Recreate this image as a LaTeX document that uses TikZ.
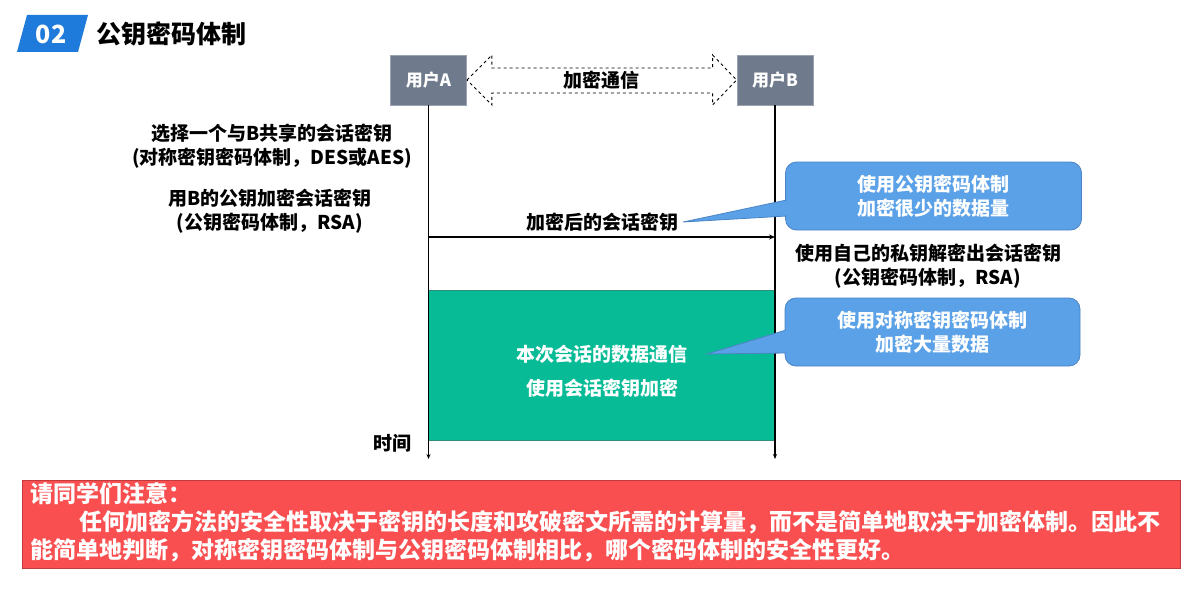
\documentclass[tikz,border=0pt]{standalone}
\usepackage{fontspec}
\setmainfont{Noto Sans CJK SC}
\usetikzlibrary{arrows.meta,calc}
\definecolor{titleblue}{HTML}{1E7BDB}
\definecolor{usergray}{HTML}{6F7B8C}
\definecolor{usergrayb}{HTML}{9AA3AE}
\definecolor{teal}{HTML}{07BB97}
\definecolor{tealb}{HTML}{2E8F7A}
\definecolor{cfill}{HTML}{5BA1E8}
\definecolor{cborder}{HTML}{4A84C4}
\definecolor{redfill}{HTML}{F94F50}
\definecolor{redborder}{HTML}{C23B3C}
\begin{document}
\begin{tikzpicture}[x=1pt,y=-1pt,
  font=\bfseries\fontsize{19}{24}\selectfont,
  userbox/.style={fill=usergray,draw=usergrayb,line width=0.8pt,text=white,minimum width=76pt,minimum height=50pt,inner sep=0pt,font=\bfseries\fontsize{17}{20}\selectfont},
  life/.style={line width=1.2pt,-{Stealth[length=5pt,width=4pt]}},
  msg/.style={line width=1.2pt,-{Stealth[length=6pt,width=5pt]}},
  calloutbox/.style={fill=cfill,draw=cborder,line width=0.8pt,rounded corners=11pt,text=white,align=center,minimum width=296pt,minimum height=68pt,inner sep=0pt},
  txt/.style={align=center,inner sep=0pt},
  redtxt/.style={text=white,anchor=west,inner sep=0pt,font=\bfseries\fontsize{23}{28}\selectfont}
]
\useasboundingbox (0,0) rectangle (1197,602);

% title
\fill[titleblue] (27,15) -- (88,15) -- (78,52) -- (17,52) -- cycle;
\node[text=white,inner sep=0pt,font=\bfseries\fontsize{25}{28}\selectfont] (num) at (51,34) {02};
\node[anchor=west,inner sep=0pt,font=\bfseries\fontsize{25}{28}\selectfont] (title) at (96,34) {公钥密码体制};

% users
\node[userbox] (A) at (428.5,80) {用户A};
\node[userbox] (B) at (775,80) {用户B};

% dashed double arrow
\draw[dashed,line width=0.9pt]
  (A.east) -- ($(A.east)+(25,-25)$) -- ($(A.east)+(25,-12)$)
  -- ($(B.west)+(-24,-12)$) -- ($(B.west)+(-24,-25)$) -- (B.west)
  -- ($(B.west)+(-24,25)$) -- ($(B.west)+(-24,13)$)
  -- ($(A.east)+(25,13)$) -- ($(A.east)+(25,25)$) -- cycle;
\node[txt] (enc) at (601,80) {加密通信};

% session box
\node[fill=teal,draw=tealb,line width=0.6pt,minimum width=347pt,minimum height=150pt,inner sep=0pt] (S) at (601.5,365) {};
\node[txt,text=white,font=\bfseries\fontsize{19}{34}\selectfont] (stxt) at (602,371) {本次会话的数据通信\\使用会话密钥加密};

% lifelines
\coordinate (Aend) at (428.5,459);
\coordinate (Bend) at (775,459);
\draw[life] (A.south) -- (Aend);
\draw[life] (B.south) -- (Bend);
\node[txt] (time) at (392,443) {时间};

% left texts
\node[txt] (t1) at (272,146) {选择一个与B共享的会话密钥\\(对称密钥密码体制，DES或AES)};
\node[txt] (t2) at (270,211) {用B的公钥加密会话密钥\\(公钥密码体制，RSA)};

% message arrow
\coordinate (k1) at (428.5,237);
\coordinate (k2) at (775,237);
\draw[msg] (k1) -- (k2);
\node[txt] (lbl) at (602,222) {加密后的会话密钥};

% right text
\node[txt] (t3) at (928,266) {使用自己的私钥解密出会话密钥\\(公钥密码体制，RSA)};

% callout 1
\node[calloutbox] (C1) at (933.5,196) {使用公钥密码体制\\加密很少的数据量};
\coordinate (p1a) at ($(C1.west)+(1.5,4)$);
\coordinate (p1b) at ($(C1.west)+(1.5,20)$);
\coordinate (tip1) at ($(lbl.east)+(5,0)$);
\fill[cfill] (p1a) -- (tip1) -- (p1b) -- cycle;
\draw[cborder,line width=0.8pt] (p1a) -- (tip1) -- (p1b);

% callout 2
\node[calloutbox,minimum width=295pt] (C2) at (932.5,332) {使用对称密钥密码体制\\加密大量数据};
\coordinate (p2a) at ($(C2.west)+(1.5,-2)$);
\coordinate (p2b) at ($(C2.west)+(1.5,21)$);
\coordinate (tip2) at (707,354);
\fill[cfill] (p2a) -- (tip2) -- (p2b) -- cycle;
\draw[cborder,line width=0.8pt] (p2a) -- (tip2) -- (p2b);

% red note
\node[fill=redfill,draw=redborder,line width=1pt,minimum width=1158pt,minimum height=88pt,inner sep=0pt] (R) at (601,524) {};
\node[redtxt] (r1) at (30,494) {请同学们注意：};
\node[redtxt] (r2) at (79,522) {任何加密方法的安全性取决于密钥的长度和攻破密文所需的计算量，而不是简单地取决于加密体制。因此不};
\node[redtxt] (r3) at (30,550) {能简单地判断，对称密钥密码体制与公钥密码体制相比，哪个密码体制的安全性更好。};
\end{tikzpicture}
\end{document}
